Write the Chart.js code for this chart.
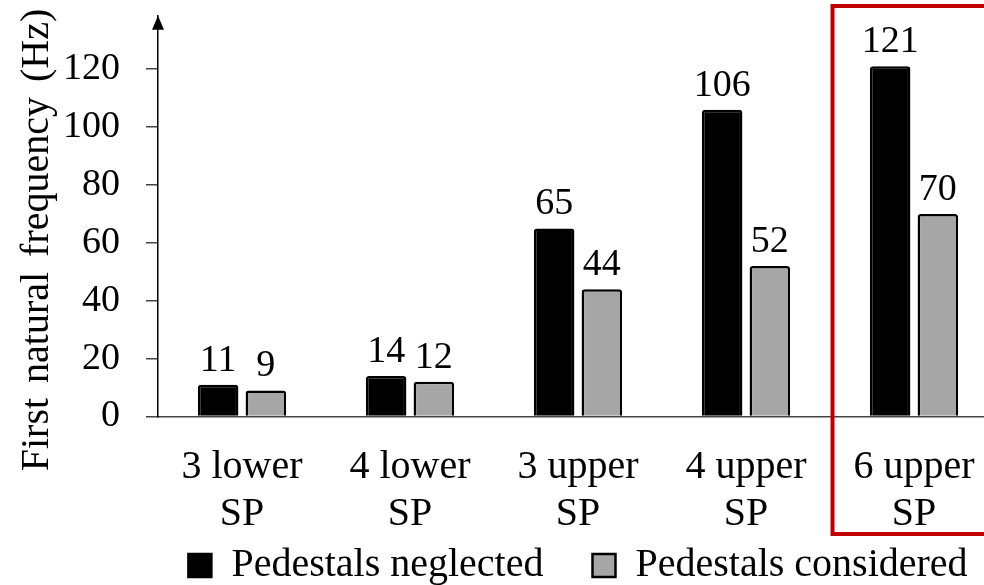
<!DOCTYPE html>
<html>
<head>
<meta charset="utf-8">
<script src="https://cdn.jsdelivr.net/npm/chart.js@4/dist/chart.umd.min.js"></script>
<style>
  html, body { margin: 0; padding: 0; background: #fff; overflow: hidden; }
  #wrap { width: 1010px; height: 596px; }
</style>
</head>
<body>
<div id="wrap"><canvas id="chart" width="1010" height="596"></canvas></div>
<script>
const categories = [['3 lower', 'SP'], ['4 lower', 'SP'], ['3 upper', 'SP'], ['4 upper', 'SP'], ['6 upper', 'SP']];
const neglected = [11, 14, 65, 106, 121];
const considered = [9, 12, 44, 52, 70];
const seriesNames = ['Pedestals neglected', 'Pedestals considered'];
const yTicks = [0, 20, 40, 60, 80, 100, 120];
const yTitle = 'First natural frequency (Hz)';
const highlightIndex = 4;

const serif = "'Times New Roman', 'Liberation Serif', serif";

// value labels above each bar
const valueLabels = {
    id: 'valueLabels',
    afterDatasetsDraw(chart) {
        const ctx = chart.ctx;
        ctx.save();
        ctx.font = '38px ' + serif;
        ctx.fillStyle = '#000';
        ctx.textAlign = 'center';
        ctx.textBaseline = 'alphabetic';
        chart.data.datasets.forEach((ds, i) => {
            chart.getDatasetMeta(i).data.forEach((bar, j) => {
                ctx.fillText(String(ds.data[j]), bar.x, bar.y - 14);
            });
        });
        ctx.restore();
    }
};

// arrow on the y axis, rotated title, red box round the last group
const decorations = {
    id: 'decorations',
    afterDraw(chart) {
        const ctx = chart.ctx;
        const area = chart.chartArea;
        const x = chart.scales.x;
        ctx.save();

        ctx.fillStyle = '#000';
        ctx.beginPath();
        ctx.moveTo(area.left, area.top);
        ctx.lineTo(area.left - 6, area.top + 14);
        ctx.lineTo(area.left + 6, area.top + 14);
        ctx.closePath();
        ctx.fill();

        ctx.translate(37, 240);
        ctx.rotate(-Math.PI / 2);
        ctx.font = '40px ' + serif;
        ctx.textAlign = 'center';
        ctx.textBaseline = 'middle';
        if ('wordSpacing' in ctx) ctx.wordSpacing = '5px';
        ctx.fillText(yTitle, 0, 0);
        ctx.setTransform(1, 0, 0, 1, 0, 0);

        const cw = (area.right - area.left) / categories.length;
        const left = x.getPixelForValue(highlightIndex) - cw * 0.485;
        ctx.strokeStyle = '#C00000';
        ctx.lineWidth = 4;
        ctx.strokeRect(left, 6, cw + 40, 528);
        ctx.restore();
    }
};

new Chart(document.getElementById('chart'), {
    type: 'bar',
    data: {
        labels: categories,
        datasets: [{
            label: seriesNames[0] + '    ',
            data: neglected,
            backgroundColor: '#000000',
            borderColor: '#000000',
            borderWidth: 2.5,
            borderRadius: 3
        }, {
            label: seriesNames[1],
            data: considered,
            backgroundColor: '#A6A6A6',
            borderColor: '#000000',
            borderWidth: 2.5,
            borderRadius: 3
        }]
    },
    options: {
        responsive: false,
        animation: false,
        devicePixelRatio: 1,
        categoryPercentage: 0.568,
        barPercentage: 0.85,
        layout: { padding: { left: 0, right: 12, top: 15.7, bottom: 0.5 } },
        plugins: {
            tooltip: { enabled: false },
            legend: {
                position: 'bottom',
                fullSize: false,
                labels: {
                    boxWidth: 23,
                    boxHeight: 23,
                    padding: 9,
                    color: '#000',
                    font: { family: serif, size: 40 }
                }
            }
        },
        scales: {
            x: {
                grid: { display: false, drawTicks: false },
                border: { display: true, color: '#444', width: 1.5 },
                ticks: {
                    color: '#000',
                    padding: 27,
                    maxRotation: 0,
                    font: { family: serif, size: 40, lineHeight: 1.18 }
                },
                afterFit(scale) { scale.height = 120; }
            },
            y: {
                min: 0,
                max: 138.5,
                grid: { drawOnChartArea: false, drawTicks: true, tickLength: 12, color: '#444', lineWidth: 1.5 },
                border: { display: true, color: '#000', width: 1.5 },
                ticks: {
                    stepSize: 20,
                    color: '#000',
                    padding: 26,
                    font: { family: serif, size: 38 }
                },
                afterBuildTicks(scale) {
                    scale.ticks = yTicks.map(v => ({ value: v }));
                },
                afterFit(scale) {
                    scale.width = 158;
                    scale.paddingTop = 0;
                    scale.paddingBottom = 0;
                }
            }
        }
    },
    plugins: [valueLabels, decorations]
});
</script>
</body>
</html>
